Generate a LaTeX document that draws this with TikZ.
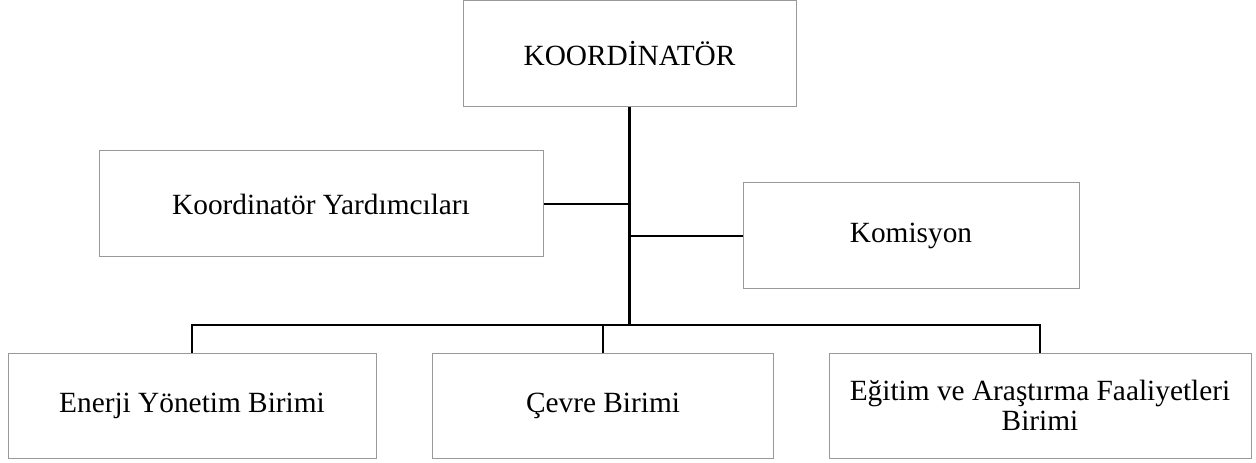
\documentclass[tikz,border=0pt]{standalone}
\usepackage{fontspec}
\setmainfont{Liberation Serif}
\usepackage{tikz}

\begin{document}
\begin{tikzpicture}[x=0.75pt,y=0.75pt,yscale=-1,
  unitbox/.style={draw=black!40,line width=0.75pt,inner sep=0.75pt,align=center,
    font=\fontsize{22}{22.5}\selectfont},
  trunk/.style={line width=1.9pt},
  branch/.style={line width=1.1pt}]
%set diagram left start at 0, and has height of 463
\useasboundingbox (0,0) rectangle (1256,463);

%Shape: Rectangle [id:koord] 
\node [unitbox,minimum width=249.75pt,minimum height=79.5pt] (koord) at (629.5,54) {KOORDİNATÖR};
%Shape: Rectangle [id:kyard] 
\node [unitbox,minimum width=333pt,minimum height=79.5pt] (kyard) at (321,204) {Koordinatör Yardımcıları};
%Shape: Rectangle [id:komisyon] 
\node [unitbox,minimum width=252pt,minimum height=79.5pt] (komisyon) at (911,236) {Komisyon};
%Shape: Rectangle [id:enerji] 
\node [unitbox,minimum width=276pt,minimum height=78.75pt] (enerji) at (192,405.5) {Enerji Yönetim Birimi};
%Shape: Rectangle [id:cevre] 
\node [unitbox,minimum width=255.75pt,minimum height=78.75pt] (cevre) at (603,405.5) {Çevre Birimi};
%Shape: Rectangle [id:egitim] 
\node [unitbox,minimum width=316.5pt,minimum height=78.75pt] (egitim) at (1040,405.5) {Eğitim ve Araştırma Faaliyetleri\\Birimi};

\coordinate (bus) at (629.5,325);

%Straight Lines [id:trunk] 
\draw [trunk]   (koord.south) -- (bus) ;
%Straight Lines [id:kyard] 
\draw [branch]   (kyard.east) -- (kyard.east -| koord.south) ;
%Straight Lines [id:komisyon] 
\draw [branch]   (komisyon.west -| koord.south) -- (komisyon.west) ;
%Straight Lines [id:bus] 
\draw [branch]   (enerji.north) -- (enerji.north |- bus) -- (egitim.north |- bus) -- (egitim.north) ;
%Straight Lines [id:cevre] 
\draw [branch]   (cevre.north |- bus) -- (cevre.north) ;

\end{tikzpicture}
\end{document}
